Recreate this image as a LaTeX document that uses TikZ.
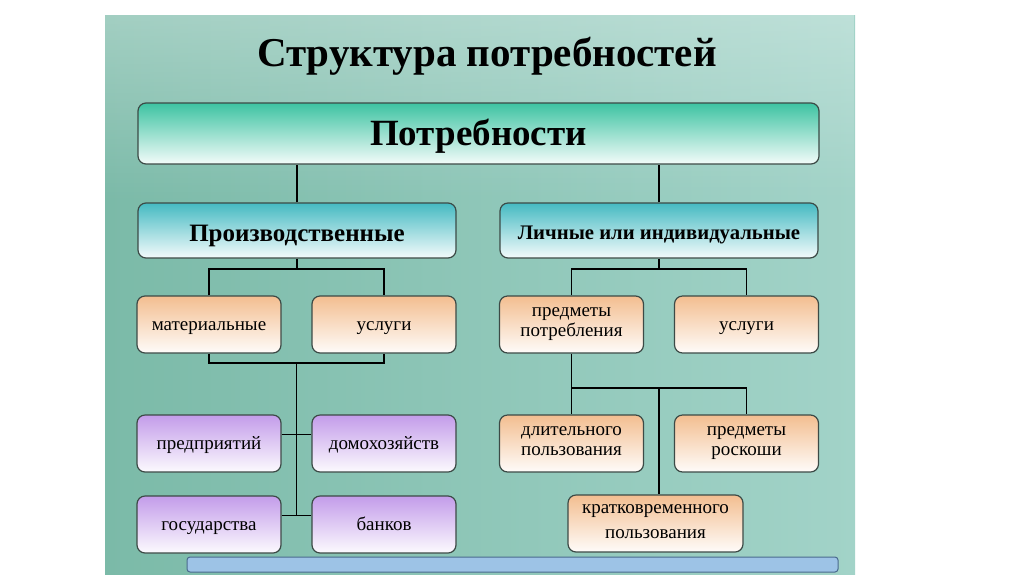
\documentclass[tikz,border=0pt]{standalone}
\usepackage{fontspec}
\setmainfont{Liberation Serif}
\usetikzlibrary{positioning, calc, fadings}

\definecolor{bgleft}{HTML}{7BBAA8}
\definecolor{bgright}{HTML}{A2D3C8}
\definecolor{boxline}{HTML}{3C4A46}
\definecolor{tealtop}{HTML}{3DC3A2}
\definecolor{cyantop}{HTML}{45BAC2}
\definecolor{orangetop}{HTML}{F3BE90}
\definecolor{violettop}{HTML}{C39CEA}
\definecolor{barblue}{HTML}{9DC3E6}
\definecolor{barline}{HTML}{4A6A8E}

\begin{document}
\begin{tikzpicture}[
  x=1pt, y=-1pt,
  pad/.style 2 args = {execute at begin node={\rule{0pt}{#1pt}}, execute at end node={\rule[-#2pt]{0pt}{#2pt}}},
  box/.style = {draw=boxline, line width=1.2pt, rounded corners=8pt, align=center, inner sep=0pt},
  mainbox/.style = {box, pad={32}{5}, top color=tealtop, bottom color=white!94!tealtop, minimum width=681pt, minimum height=61pt},
  kindbox/.style = {box, top color=cyantop, bottom color=white!94!cyantop, minimum width=318pt, minimum height=55pt},
  peachbox/.style = {box, pad={16}{4}, top color=orangetop, bottom color=white!95!orangetop, minimum width=144pt, minimum height=57pt, font=\fontsize{19}{20}\selectfont},
  lilacbox/.style = {box, pad={16}{4}, top color=violettop, bottom color=white!95!violettop, minimum width=144pt, minimum height=57pt, font=\fontsize{19}{20}\selectfont},
  link/.style = {line width=1.8pt, black}
]

  % slide background
  \useasboundingbox (0,0) rectangle (1024,574);
  \fill[white] (0,0) rectangle (1024,574);
  \shade[left color=bgleft, right color=bgright] (105,15) rectangle (855,574);
  \fill[white, opacity=0.3, path fading=south] (105,15) rectangle (855,200);

  % title
  \node[font=\bfseries\fontsize{41}{43}\selectfont] (title) at (487,56) {Структура потребностей};

  % Needs
  \node[mainbox, font=\bfseries\fontsize{37}{39}\selectfont] (needs) at (478.5,133.5) {Потребности};

  % two kinds
  \node[kindbox, pad={27}{4}, font=\bfseries\fontsize{25}{27}\selectfont] (prod) at (297,230.5) {Производственные};
  \node[kindbox, pad={22}{4}, font=\bfseries\fontsize{20.7}{22}\selectfont] (pers) at (659,230.5) {Личные или индивидуальные};

  \draw[link] (prod.north) -- (prod.north |- needs.south);
  \draw[link] (pers.north) -- (pers.north |- needs.south);

  % production side
  \node[peachbox] (mat) at (209,324.5) {материальные};
  \node[peachbox] (servp) at (384,324.5) {услуги};

  \node[lilacbox] (firm) at (209,443.5) {предприятий};
  \node[lilacbox] (home) at (384,443.5) {домохозяйств};
  \node[lilacbox] (state) at (209,524.5) {государства};
  \node[lilacbox] (bank) at (384,524.5) {банков};

  \draw[link] (prod.south) -- ++(0,10) coordinate (pj);
  \draw[link] (mat.north) |- (pj) -| (servp.north);

  \draw[link] (mat.south) -- ++(0,9) coordinate (mj) -| (servp.south);
  \coordinate (spine) at ($(mj)!0.5!(mj -| servp.south)$);
  \coordinate (t1) at ([yshift=9pt]firm.east);
  \coordinate (t2) at ([yshift=9pt]state.east);
  \draw[link] (spine) -- (spine |- t2);
  \draw[link] (t1) -- (t1 -| home.west);
  \draw[link] (t2) -- (t2 -| bank.west);

  % personal side
  \node[peachbox] (goods) at (571.5,324.5) {предметы\\потребления};
  \node[peachbox] (servl) at (746.5,324.5) {услуги};

  \node[peachbox] (durable) at (571.5,443.5) {длительного\\пользования};
  \node[peachbox] (luxury) at (746.5,443.5) {предметы\\роскоши};
  \node[peachbox, minimum width=175pt, font=\fontsize{19}{25}\selectfont] (short) at (655.5,523.5) {кратковременного\\пользования};

  \draw[link] (pers.south) -- ++(0,10) coordinate (lj);
  \draw[link] (goods.north) |- (lj) -| (servl.north);

  \draw[link] (goods.south) -- ++(0,34) coordinate (gj) -| (luxury.north);
  \draw[link] (gj) -- (durable.north);
  \draw[link] (pers.south |- gj) -- (pers.south |- short.north);

  % bottom bar
  \draw[fill=barblue, draw=barline, line width=1pt, rounded corners=3pt] (187,557) rectangle (838,572);

\end{tikzpicture}
\end{document}
